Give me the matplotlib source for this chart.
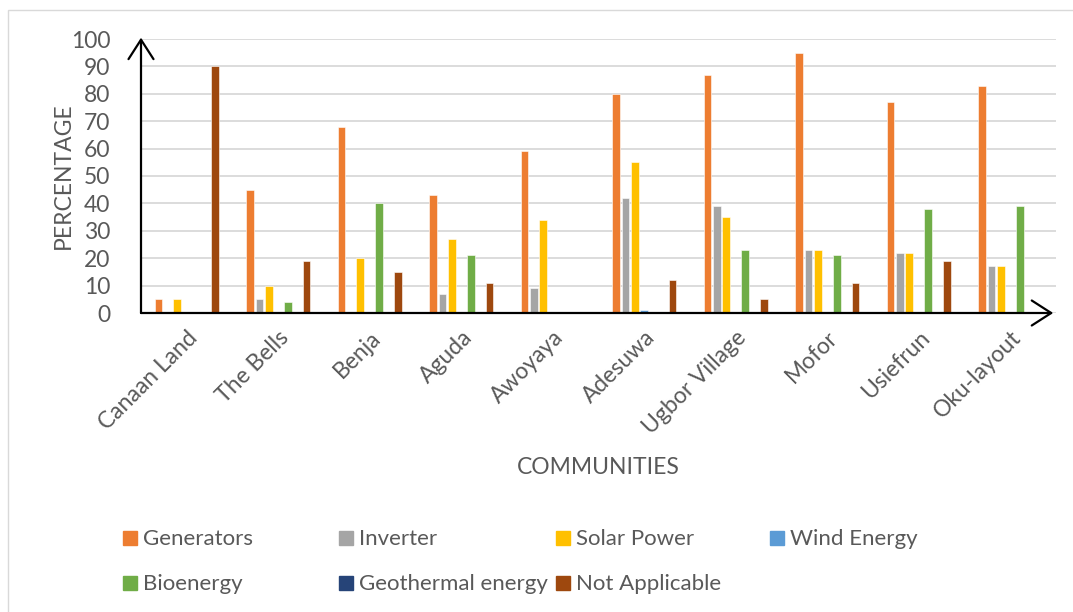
import numpy as np
import matplotlib.pyplot as plt
from matplotlib.patches import Rectangle

plt.rcParams['font.family'] = ['Lato', 'DejaVu Sans']

communities = ['Canaan Land', 'The Bells', 'Benja', 'Aguda', 'Awoyaya',
               'Adesuwa', 'Ugbor Village', 'Mofor', 'Usiefrun', 'Oku-layout']
series = ['Generators', 'Inverter', 'Solar Power', 'Wind Energy',
          'Bioenergy', 'Geothermal energy', 'Not Applicable']
colors = ['#ED7D31', '#A5A5A5', '#FFC000', '#5B9BD5',
          '#70AD47', '#264478', '#9E480E']

generators = [5, 45, 68, 43, 59, 80, 87, 95, 77, 83]
inverter = [0, 5, 0, 7, 9, 42, 39, 23, 22, 17]
solar = [5, 10, 20, 27, 34, 55, 35, 23, 22, 17]
wind = [0, 0, 0, 0, 0, 1, 0, 0, 0, 0]
bioenergy = [0, 4, 40, 21, 0, 0, 23, 21, 38, 39]
geothermal = [0, 0, 0, 0, 0, 0, 0, 0, 0, 0]
not_applicable = [90, 19, 15, 11, 0, 12, 5, 11, 19, 0.5]

values = [generators, inverter, solar, wind, bioenergy, geothermal, not_applicable]

W, H = 1073, 612
fig = plt.figure(figsize=(W / 100, H / 100), dpi=100)
ax = fig.add_axes([141 / W, 1 - 313 / H, 915 / W, 274 / H])

# frame around the whole chart area
fig.patches.append(Rectangle((8 / W, -0.01), 1.0, 1 - 10 / H + 0.01,
                             transform=fig.transFigure, fill=False,
                             edgecolor='#D9D9D9', lw=1))

x = np.arange(len(communities))
step = 0.103
for k, (name, vals, c) in enumerate(zip(series, values, colors)):
    ax.bar(x + (k - 3) * step, vals, width=step * 0.82, color=c,
           edgecolor='white', linewidth=0.4, label=name, zorder=3)

ax.set_xlim(-0.5, len(communities) - 0.5)
ax.set_ylim(0, 100)
ax.set_yticks(range(0, 101, 10))
ax.yaxis.grid(True, color='#D9D9D9', lw=1.3, zorder=0)
ax.set_axisbelow(True)
for s in ax.spines.values():
    s.set_visible(False)
ax.tick_params(axis='both', length=0, labelsize=16.5, colors='#595959')
ax.tick_params(axis='y', pad=22)
ax.set_xticks(x)
ax.set_xticklabels(communities, rotation=45, ha='right', rotation_mode='anchor')
ax.tick_params(axis='x', pad=10)

# axis arrows
arrow = dict(arrowstyle='->,head_length=0.7,head_width=0.45', color='black',
             lw=1.6, mutation_scale=20, shrinkA=0, shrinkB=0)
ax.annotate('', xy=(-0.5, 100.5), xytext=(-0.5, 0), arrowprops=arrow,
            annotation_clip=False, zorder=5)
ax.annotate('', xy=(9.47, 0), xytext=(-0.5, 0), arrowprops=arrow,
            annotation_clip=False, zorder=5)

ax.set_ylabel('PERCENTAGE', fontsize=16.5, color='#595959', labelpad=-2)
ax.set_xlabel('COMMUNITIES', fontsize=16.5, color='#595959', labelpad=14)

# legend: two rows, four slots per row
slot_x = [123, 339, 556, 770]
row_y = [538, 583]
for k, (name, c) in enumerate(zip(series, colors)):
    row, col = divmod(k, 4)
    px, py = slot_x[col], row_y[row]
    fig.patches.append(Rectangle((px / W, 1 - (py + 7) / H), 14 / W, 14 / H,
                                 transform=fig.transFigure, color=c))
    fig.text((px + 20) / W, 1 - (py + 1) / H, name, fontsize=16,
             color='#595959', va='center', ha='left')

fig.savefig('out.png', dpi=100)
